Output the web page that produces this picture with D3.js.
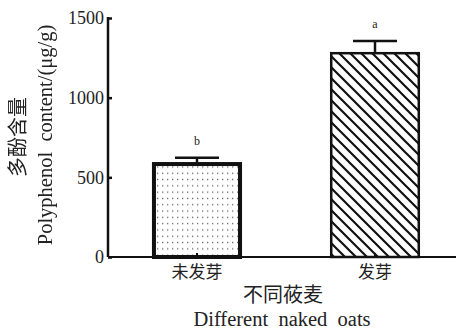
<!DOCTYPE html>
<html><head><meta charset="utf-8">
<script src="https://cdn.jsdelivr.net/npm/d3@7/dist/d3.min.js"></script>
<style>
html,body{margin:0;padding:0;background:#fff;}
text{font-family:"Liberation Serif","DejaVu Serif",serif;fill:#222;}
.cjk{font-family:"Noto Sans CJK SC","Noto Sans CJK JP",sans-serif;font-weight:400;}
</style></head>
<body>
<svg id="c" width="456" height="329"></svg>
<script>
const categories = ["未发芽", "发芽"];
const values = [596, 1287];
const errors = [27, 69];
const letters = ["b", "a"];
const yTicks = [0, 500, 1000, 1500];

const W = 456, H = 329;
const svg = d3.select("#c");
const m = {left:108, top:18, bottom:72};
const y = d3.scaleLinear().domain([0,1500]).range([H-m.bottom, m.top]);
const x = d3.scaleBand().domain(categories).range([m.left, 464]).paddingInner(0.494).paddingOuter(0.247);

const defs = svg.append("defs");
const gray = defs.append("filter").attr("id","gray").attr("x","-10%").attr("y","-10%").attr("width","120%").attr("height","120%");
gray.append("feColorMatrix").attr("type","saturate").attr("values",0);
const dots = defs.append("pattern").attr("id","dots").attr("patternUnits","userSpaceOnUse")
  .attr("width",5).attr("height",6.3);
dots.append("rect").attr("width",5).attr("height",6.3).attr("fill","#fff");
dots.append("rect").attr("x",2).attr("y",2.5).attr("width",1.3).attr("height",1.3).attr("fill","#666");
const hatch = defs.append("pattern").attr("id","hatch").attr("patternUnits","userSpaceOnUse")
  .attr("width",11).attr("height",11);
hatch.append("rect").attr("width",11).attr("height",11).attr("fill","#fff");
hatch.append("path").attr("d","M-2,-2L13,13M-2,9L2,13M9,-2L13,2").attr("stroke","#111").attr("stroke-width",2.2);

const fills = ["url(#dots)", "url(#hatch)"];
const borders = [4, 2.5];

categories.forEach((c,i)=>{
  const bw = borders[i];
  svg.append("rect")
    .attr("x", x(c)+bw/2).attr("y", y(values[i])+bw/2)
    .attr("width", x.bandwidth()-bw).attr("height", y(0)-y(values[i])-bw/2)
    .attr("fill", fills[i]).attr("stroke","#111").attr("stroke-width", bw);
  const cx = x(c)+x.bandwidth()/2;
  svg.append("line").attr("x1",cx).attr("x2",cx).attr("y1",y(values[i])).attr("y2",y(values[i]+errors[i]))
    .attr("stroke","#111").attr("stroke-width",2.5);
  svg.append("line").attr("x1",cx-22).attr("x2",cx+22).attr("y1",y(values[i]+errors[i])).attr("y2",y(values[i]+errors[i]))
    .attr("stroke","#111").attr("stroke-width",2.5);
  svg.append("text").attr("x",cx).attr("y",y(values[i]+errors[i])-13)
    .attr("text-anchor","middle").attr("font-size",12).text(letters[i]);
  svg.append("line").attr("x1",cx).attr("x2",cx).attr("y1",y(0)).attr("y2",y(0)-4)
    .attr("stroke","#111").attr("stroke-width",2);
  svg.append("text").attr("class","cjk").attr("x",cx).attr("y",y(0)+21)
    .attr("text-anchor","middle").attr("font-size",17).text(c);
});

svg.append("line").attr("x1",m.left).attr("x2",W).attr("y1",y(0)).attr("y2",y(0))
  .attr("stroke","#111").attr("stroke-width",2.2);

const ya = svg.append("g").attr("transform",`translate(${m.left},0)`)
  .call(d3.axisLeft(y).tickValues(yTicks).tickSize(-4).tickPadding(6).tickFormat(d3.format("d")));
ya.select(".domain").attr("stroke","#111").attr("stroke-width",2.5).attr("d",`M0,${y(0)}V${y(1500)-1}`);
ya.selectAll(".tick line").attr("stroke","#111").attr("stroke-width",2.5);
ya.selectAll(".tick text").attr("font-size",18).attr("font-family","Liberation Serif").attr("fill","#222").attr("dx",2);

svg.append("text").attr("class","cjk").attr("x",283).attr("y",302).attr("text-anchor","middle")
  .attr("font-size",20).text("不同莜麦");
svg.append("text").attr("x",282).attr("y",326).attr("text-anchor","middle")
  .attr("font-size",20.5).style("white-space","pre").text("Different  naked  oats");
const yl = svg.append("g").attr("filter","url(#gray)");
yl.append("text").attr("class","cjk").attr("transform","translate(25,137) rotate(-90)").attr("text-anchor","middle")
  .attr("font-size",20).text("多酚含量");
yl.append("text").attr("transform","translate(52,135) rotate(-90)").attr("text-anchor","middle")
  .attr("font-size",20.5).style("white-space","pre").text("Polyphenol  content/(μg/g)");
</script>
</body></html>
